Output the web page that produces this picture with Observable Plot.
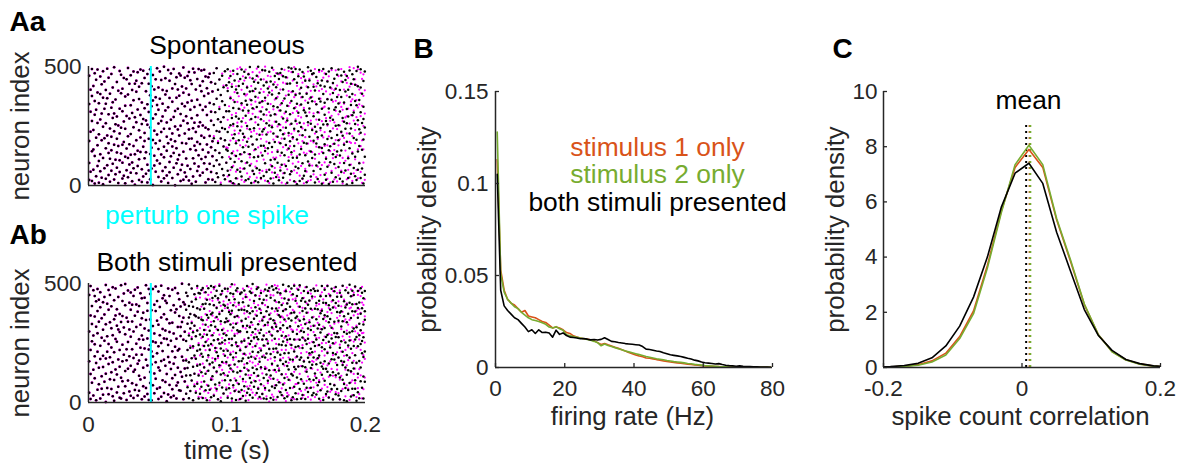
<!DOCTYPE html>
<html><head><meta charset="utf-8">
<script src="https://cdn.jsdelivr.net/npm/d3@7"></script>
<script src="https://cdn.jsdelivr.net/npm/@observablehq/plot@0.6"></script>
<style>
body{margin:0;background:#fff;}
#fig{position:relative;width:1181px;height:463px;overflow:hidden;background:#fff;}
#fig > svg{position:absolute;}
</style></head><body><div id="fig"></div>
<script>
// ---------------- Panel A: raster data ----------------
// For each 1-ms bin (0-199 ms), the indices of neurons that spiked.
const perturbTime = 0.045; // s, time of the perturbed spike
const spontOriginal = [
[23,187,342,461,95],[310,58,402,226],[144,489,271,19,376],[66,233,418,151],[297,8,355,472,124],[201,39,444,318],[82,263,487,169,391],[12,346,215,103],[458,277,131,60,384],[190,425,33,302],
[247,116,369,480,5],[73,322,199,437],[156,401,28,262,343],[491,85,210,367],[137,299,44,453,178],[16,386,239,112],[327,469,62,205,148],[412,91,284,350],[171,25,497,228,303],[108,361,257,47],
[435,139,290,75,196],[252,10,398,166],[323,481,106,57,219],[388,243,134,465],[29,171,312,407,96],[269,452,183,41],[121,335,9,374,238],[446,64,292,155],[207,382,116,494,35],[173,281,427,88],
[54,337,216,463,129],[305,97,401,18],[245,166,479,358,72],[131,428,287,3],[394,190,51,266,440],[82,319,476,146],[232,23,363,110,415],[487,202,141,296],[68,349,258,430,15],[163,482,279,38],
[325,114,452,221,187],[49,396,273,140],[468,87,341,13,255],[196,309,427,63],[132,244,488,379,26],[417,159,71,333],[2,282,191,464,357],[230,125,403,84],[371,58,299,177,446],[105,493,214,338],
[260,36,412,153,318],[479,188,92,364],[17,271,443,130,225],[344,401,61,290],[163,499,238,119,30],[382,77,315,451],[205,146,265,42,397],[485,11,329,178],[99,368,238,440,56],[276,193,471,123],
[31,352,219,408,164],[288,75,137,490],[426,248,1,313,186],[157,369,93,455],[235,47,403,322,109],[471,210,128,377],[65,300,462,19,251],[343,179,416,87],[142,496,272,24,390],[218,55,333,453],
[113,408,291,176,37],[460,262,83,349],[196,21,381,235,477],[318,152,442,69],[7,283,197,426,356],[491,114,241,38],[167,330,475,92,264],[403,16,225,148],[295,447,61,360,183],[127,248,489,80],
[338,42,174,419,266],[209,396,111,483],[54,317,252,150,438],[376,93,486,201],[243,13,331,458,120],[172,409,68,296],[455,236,139,387,26],[91,347,208,470],[310,161,434,57,272],[186,24,395,123],
[473,254,82,341,199],[15,308,427,148],[229,364,106,493,51],[402,179,278,35],[137,445,226,321,88],[267,3,380,198],[354,461,119,242,69],[43,287,413,164],[190,338,480,26,237],[421,96,312,151],
[62,225,397,488,146],[312,171,44,434],[253,18,367,112,460],[136,415,284,77],[482,199,326,9,258],[99,351,441,215],[177,30,290,403,124],[389,249,66,469],[5,322,190,418,280],[231,447,131,58],
[346,102,269,487,38],[161,428,217,315],[71,384,478,140,203],[293,22,356,453],[412,184,250,97,339],[27,467,314,163],[236,395,84,498,131],[358,11,279,206],[450,172,62,325,397],[119,241,436,48],
[288,407,152,19,373],[193,461,73,330],[432,255,121,499,14],[65,348,213,390],[167,278,445,32,311],[485,126,354,227],[40,236,420,167,298],[369,93,483,145],[214,319,57,434,262],[156,408,18,343],
[391,66,252,179,478],[107,294,437,29],[245,162,382,495,81],[333,8,219,424],[183,460,110,299,54],[268,413,36,367],[471,142,329,205,96],[22,388,257,448],[315,178,473,63,232],[138,346,490,87],
[215,33,403,281,459],[366,127,196,52],[82,455,310,243,170],[427,273,12,335],[155,381,496,104,221],[299,47,429,186],[60,259,355,492,140],[396,203,117,477],[18,325,238,446,166],[271,489,79,380],
[193,5,344,432,117],[459,228,306,72],[130,387,19,264,487],[246,153,411,340],[372,94,477,211,29],[41,316,180,458],[307,440,127,233,61],[176,14,386,292],[413,266,101,497,348],[84,205,324,441],
[259,482,143,38,370],[116,354,233,469],[472,61,291,188,415],[13,247,399,130],[341,176,456,84,226],[203,430,27,308],[97,365,485,161,276],[420,242,69,353],[158,7,322,441,210],[384,137,490,256],
[45,297,173,416,348],[271,468,112,24],[362,195,437,79,257],[148,324,6,479],[228,412,98,285,165],[493,54,360,200],[131,276,431,16,389],[318,449,175,90],[251,35,406,329,120],[465,212,143,372],
[78,345,253,487,190],[401,126,28,311],[226,462,372,147,57],[17,284,435,209],[349,95,171,478,268],[443,238,63,395],[184,321,4,262,460],[115,402,290,31],[372,157,483,219,86],[240,49,338,428],
[134,467,295,10,384],[307,200,74,446],[423,121,355,258,39],[192,481,23,337],[66,274,417,143,499],[359,166,236,94],[488,31,308,412,222],[150,386,71,263],[279,439,193,8,331],[45,244,479,121]
];
// Perturbed spontaneous trial: identical to the original before spontDivergeMs, then these bins.
const spontDivergeMs = 90;
const spontPerturbedLate = [
[473,254,82,341,207],[15,308,427,148],[229,364,106,493,51],[402,186,278,35],[137,445,226,330,88],[267,12,380,198],[354,470,119,242,69],[43,287,420,164],[190,338,480,26,237],[421,96,312,160],
[38,276,409,158],[451,120,333,17,244],[189,372,65,480],[297,11,426,213],[143,359,82,468,250],[6,231,392,127],[417,304,58,186],[264,490,147,351,29],[112,375,219,438],[320,73,169,496],
[247,402,24,338,131],[459,191,283,70],[15,327,441,206],[168,94,378,263,487],[383,239,51,416],[132,470,305,197],[276,36,453,118,362],[418,225,91,340],[59,301,476,173],[230,148,396,13,321],
[352,79,444,265],[102,491,217,33],[286,160,369,457,125],[475,52,311,238],[196,405,138,27,350],[61,329,483,214],[393,271,109,446],[158,20,357,242,499],[437,184,296,66],[223,379,134,461],
[10,308,179,415,273],[342,458,87,226],[140,252,399,55],[486,117,320,193,31],[268,434,74,361],[117,206,472,298],[372,45,248,149,423],[34,315,467,181],[255,403,126,339,76],[464,197,288,12],
[161,356,51,432,244],[303,89,219,486],[428,171,378,7,266],[68,282,453,150],[210,397,119,334,481],[347,23,256,165],[476,130,392,217,57],[92,305,441,196],[231,64,371,497,145],[385,278,14,329],
[123,419,259,53,312],[292,177,468,99],[41,337,212,404],[451,82,286,163,370],[186,240,27,432],[326,471,138,261,9],[70,357,203,445],[416,134,292,58,389],[253,19,479,176],[145,364,91,307,448],
[23,273,398,187],[372,140,466,239,84],[303,47,181,425],[489,218,352,112],[163,416,277,35,341],[257,79,440,195],[398,306,133,477,16],[44,232,365,160],[481,141,270,86,405],[202,327,11,453],
[331,97,224,471,166],[119,395,52,283],[440,252,169,364,28],[85,307,459,206],[272,144,383,13,227],[407,61,293,485],[174,352,115,429,240],[26,265,401,149],[356,484,191,73,314],[237,17,420,128],
[460,169,299,43,381],[194,348,95,252],[63,437,222,330,489],[318,116,270,8],[403,200,53,344,177],[147,466,286,104],[291,26,378,219,431],[452,121,323,66],[34,260,415,183,497],[179,353,88,296],
[426,207,140,362,19],[273,493,51,315],[110,233,446,178,380],[359,65,287,422],[488,152,328,30,255],[216,403,96,341],[57,291,474,165,388],[335,190,11,448],[152,377,250,96,467],[400,24,302,215]
];
const bothOriginal = [
[41,298,173,452],[366,120,221,489,15],[257,83,405,330],[138,472,29,281],[194,361,447,102,245],[9,318,166,425],[291,54,384,213,477],[146,432,77,339],[238,17,400,183,463],[354,110,272,58],
[421,196,33,306,149],[87,259,443,370],[2,329,185,494,121],[278,415,61,213],[162,390,246,35,473],[337,98,452,190],[57,231,404,312,127],[484,169,26,283],[211,350,430,95,7],[366,139,267,479],
[118,255,392,42,323],[443,181,66,307],[296,20,372,221,150],[493,104,338,17],[173,426,243,89,363],[39,315,201,458],[409,132,287,68,498],[224,356,11,177],[92,471,339,254,142],[307,46,419,194],
[154,390,276,28,462],[411,81,224,340],[19,298,187,448,129],[365,138,474,53],[247,412,74,317,201],[483,163,29,381],[112,266,405,176,49],[327,459,230,97],[201,14,354,438,281],[68,377,146,264],
[440,227,104,311,25],[180,493,61,347],[269,36,418,155,385],[11,302,223,477],[349,128,456,82,241],[214,388,9,160],[477,73,321,256,193],[122,411,290,39],[384,252,169,487,100],[58,344,207,426],
[236,15,466,327,147],[401,283,134,63],[174,357,491,24,250],[309,93,216,438],[451,180,40,371,269],[86,302,427,154],[267,418,120,350,5],[34,191,479,242],[333,447,74,296,169],[141,388,22,259],
[474,215,335,102,56],[290,409,163,28],[116,234,378,481,190],[392,71,268,17],[219,459,146,317,84],[51,363,225,434],[317,128,49,403,279],[499,192,338,108],[176,421,264,14,356],[88,297,412,143],
[258,37,390,176,461,113],[331,64,221,447,145],[18,405,282,169,496,357],[230,115,372,48,311],[423,186,267,92,479,334],[150,295,9,402,236],[368,68,455,197,323,121],[41,278,184,434,362],[302,489,154,217,79,396],[113,242,356,17,460],
[391,160,286,458,37,223],[66,349,205,473,127],[276,413,19,346,192,481],[147,237,394,88,305],[463,121,327,254,51,415],[9,285,176,432,368],[356,199,480,70,240,133],[221,413,54,301,162],[96,371,246,489,22,325],[439,168,283,110,377],
[28,262,409,147,341,484],[318,183,76,447,229],[470,57,359,211,130,397],[195,305,438,14,266],[83,420,248,372,157,491],[341,5,227,118,454],[252,386,469,63,170,305],[123,289,411,38,217],[407,196,337,94,478,262],[55,353,170,445,283],
[217,478,112,341,20,398],[380,155,267,60,431],[94,328,459,202,143,371],[268,17,386,241,497],[456,189,73,315,130,409],[160,434,280,48,359],[331,92,208,471,11,252],[480,236,363,126,304],[45,173,419,297,389,78],[299,456,132,220,15],
[174,344,53,462,256,390],[421,99,321,185,27],[259,471,146,389,68,205],[7,233,352,118,443],[383,165,296,489,41,322],[134,407,58,271,188],[316,246,466,103,375,31],[460,192,84,337,258],[213,20,383,146,498,295],[352,124,273,426,66],
[89,309,451,184,237,400],[275,40,364,140,477],[483,211,112,329,58,266],[171,394,292,23,435],[306,148,460,77,219,376],[36,265,345,192,418],[432,103,281,17,359,239],[189,475,326,61,142],[266,383,15,206,449,118],[401,91,336,248,470],
[136,297,481,50,369,225],[352,19,204,440,113],[67,315,395,163,281,488],[474,226,100,346,12],[190,429,268,137,333,61],[318,73,480,227,395],[23,386,154,299,462,210],[244,134,367,85,421],[459,201,43,312,177,359],[119,280,410,31,242],
[384,162,256,495,76,325],[207,437,103,349,18],[278,52,392,171,467,240],[153,313,25,416,264],[431,96,353,208,488,139],[61,267,181,402,320],[345,479,120,242,9,376],[180,22,297,455,113],[491,214,378,66,265,149],[233,355,140,427,39],
[105,447,288,193,361,14],[320,82,236,474,151],[264,402,57,343,180,493],[16,189,427,301,98],[438,273,152,384,31,229],[172,350,468,79,296],[395,15,260,148,423,330],[62,246,377,485,129],[311,411,188,44,268,460],[207,98,337,170,429],
[472,145,305,62,394,226],[30,357,211,445,159],[253,478,95,322,189,40],[394,122,283,468,237],[161,34,350,418,265,103],[311,470,186,73,392],[86,242,427,327,16,198],[446,167,294,51,375],[232,386,117,489,308,151],[11,263,419,142,351],
[367,91,224,474,173,313],[142,418,275,36,448],[489,208,362,129,46,284],[255,21,337,409,164],[114,391,450,231,78,351],[314,57,182,478,269],[430,249,127,399,13,208],[72,339,467,181,292],[203,115,418,275,485,35],[380,158,291,57,444],
[29,274,406,189,343,122],[461,105,230,378,14],[174,319,48,444,257,383],[341,213,491,96,158],[78,425,296,171,362,9],[252,147,399,61,472],[412,289,5,337,199,117],[135,461,240,373,52],[294,82,188,495,419,261],[446,226,355,25,131],
[167,413,58,299,383,470],[311,30,452,143,237],[94,265,382,199,487,58],[414,167,316,7,275],[236,356,469,121,43,397],[18,283,174,420,331],[373,147,480,246,89,304],[258,62,396,207,461],[109,438,328,17,274,191],[469,214,348,87,383]
];
const bothDivergeMs = 70;
const bothPerturbedLate = [
[258,37,390,182,461,113],[331,70,221,447,145],[18,405,290,169,496,357],[238,115,372,48,311],[423,186,275,92,479,340],[150,301,9,402,229],[368,76,455,190,323,121],[48,278,184,441,362],[302,481,160,217,86,396],[119,249,356,24,460],
[57,312,198,441,134],[270,403,86,359,22],[163,475,239,328,111],[395,47,287,150,462],[220,371,18,436,305],[131,259,489,74,347],[452,190,318,40,266],[9,384,224,157,433],[339,102,463,281,58],[186,427,240,365,97],
[476,144,292,33,410],[61,356,217,488,175],[308,229,126,401,49],[431,13,349,186,262],[148,285,497,72,380],[246,406,155,329,20],[384,92,271,458,137],[37,203,425,310,166],[292,480,115,246,396],[163,339,63,441,224],
[412,27,301,189,467],[128,387,251,76,344],[486,210,39,419,158],[302,137,376,6,265],[63,445,214,333,179],[420,288,101,495,47],[191,53,362,244,403],[335,466,149,82,290],[12,237,410,173,358],[462,109,295,43,226],
[251,395,17,339,132],[89,316,478,204,436],[374,160,266,48,403],[200,453,87,311,29],[443,236,140,380,67],[115,359,486,248,10],[322,70,205,431,173],[478,283,398,115,54],[41,168,326,462,233],[268,417,92,190,352],
[154,31,448,287,369],[385,247,110,486,196],[16,302,409,161,63],[448,185,341,228,93],[226,388,16,470,142],[351,122,263,415,37],[70,467,198,322,279],[409,53,238,361,150],[292,143,430,26,495],[179,325,81,400,258],
[467,226,349,106,4],[99,375,184,452,286],[318,33,261,396,158],[24,450,136,308,213],[383,175,493,72,343],[246,12,327,422,128],[490,300,95,215,370],[143,398,266,47,475],[337,83,452,183,305],[59,221,362,117,439],
[417,188,28,296,357],[272,468,155,390,81],[6,341,221,474,119],[366,107,418,253,40],[189,282,31,434,167],[465,373,93,244,316],[120,16,307,451,228],[303,433,172,61,389],[222,129,383,495,14],[437,264,77,336,189],
[78,416,193,306,478],[349,151,37,265,403],[486,229,377,120,297],[153,48,326,460,207],[398,312,89,241,19],[31,268,440,176,361],[262,484,131,397,54],[417,91,212,335,139],[109,378,466,23,285],[346,199,60,426,250],
[201,457,320,88,12],[437,142,255,389,174],[64,296,171,479,360],[323,23,444,214,111],[180,407,83,272,492],[469,240,137,335,46],[94,361,413,190,272],[385,126,7,452,309],[249,463,216,58,392],[21,319,162,433,100],
[358,197,481,74,277],[140,411,250,28,342],[492,65,380,213,156],[288,456,108,397,20],[45,173,322,445,239],[424,284,141,52,376],[199,15,468,310,112],[331,403,75,246,482],[106,252,397,167,44],[460,138,289,356,211],
[275,39,425,188,337],[12,364,243,471,96],[404,214,112,308,450],[167,489,278,57,381],[341,83,196,432,262],[221,406,26,349,138],[483,156,302,72,417],[58,327,459,232,178],[395,190,347,11,276],[127,262,475,399,85],
[316,448,93,207,31],[462,175,366,256,120],[81,299,413,142,484],[229,23,386,323,164],[452,371,105,290,60],[140,265,471,35,392],[377,114,221,447,303],[17,420,168,291,486],[293,56,339,410,199],[434,183,252,105,362]
];

// ---------------- Panel B: firing-rate distributions ----------------
const rateBins = [0.5,1.5,2.5,3.5,4.5,5.5,6.5,7.5,8.5,9.5,10.5,11.5,12.5,13.5,14.5,15.5,16.5,17.5,18.5,19.5,
20.5,21.5,22.5,23.5,24.5,25.5,26.5,27.5,28.5,29.5,30.5,31.5,32.5,33.5,34.5,35.5,36.5,37.5,38.5,39.5,
40.5,41.5,42.5,43.5,44.5,45.5,46.5,47.5,48.5,49.5,50.5,51.5,52.5,53.5,54.5,55.5,56.5,57.5,58.5,59.5,
60.5,61.5,62.5,63.5,64.5,65.5,66.5,67.5,68.5,69.5,70.5,71.5,72.5,73.5,74.5,75.5,76.5,77.5,78.5,79.5];
const rateStim1 = [0.113,0.053,0.042,0.037,0.035,0.034,0.032,0.030,0.031,0.028,0.0275,0.027,0.026,0.025,0.0245,0.023,0.0215,0.022,0.0215,0.0205,
0.019,0.0185,0.0172,0.0166,0.0160,0.0156,0.0155,0.0150,0.0145,0.0135,0.0125,0.0130,0.0123,0.0117,0.0110,0.0104,0.0097,0.0090,0.0082,0.0075,
0.0068,0.0062,0.0058,0.0052,0.0050,0.0047,0.0043,0.0040,0.0036,0.0033,0.0030,0.0028,0.0025,0.0023,0.0020,0.0018,0.0016,0.0014,0.0012,0.0010,
0.0008,0.0007,0.0006,0.0005,0.0005,0.0004,0.0003,0.0003,0.0002,0.0002,0.0002,0.0002,0.0001,0.0001,0.0001,0.0001,0.0001,0.0001,0.0001,0.0001];
const rateStim2 = [0.128,0.051,0.041,0.037,0.035,0.033,0.032,0.030,0.0285,0.027,0.026,0.0255,0.025,0.0243,0.0235,0.022,0.0215,0.0222,0.021,0.0203,
0.0178,0.0173,0.0168,0.0164,0.0160,0.0156,0.0152,0.0148,0.0142,0.0135,0.0118,0.0128,0.0120,0.0114,0.0108,0.0102,0.0096,0.0090,0.0085,0.0080,
0.0075,0.0070,0.0065,0.0060,0.0056,0.0052,0.0048,0.0045,0.0042,0.0038,0.0035,0.0032,0.0030,0.0028,0.0025,0.0022,0.0020,0.0017,0.0015,0.0013,
0.0010,0.0009,0.0008,0.0007,0.0005,0.0004,0.0004,0.0003,0.0003,0.0002,0.0002,0.0002,0.0001,0.0001,0.0001,0.0001,0.0001,0.0001,0.0001,0.0001];
const rateBoth = [0.105,0.042,0.0335,0.031,0.029,0.027,0.026,0.024,0.022,0.0195,0.0205,0.0185,0.0205,0.019,0.0192,0.0188,0.0165,0.0203,0.018,0.0188,
0.0174,0.0165,0.0163,0.0160,0.0156,0.0157,0.0154,0.0150,0.0152,0.0149,0.0153,0.0162,0.0152,0.0142,0.0140,0.0136,0.0133,0.0130,0.0128,0.0126,
0.0124,0.0122,0.0114,0.0100,0.0098,0.0094,0.0090,0.0087,0.0080,0.0075,0.0069,0.0066,0.0063,0.0060,0.0055,0.0050,0.0046,0.0040,0.0036,0.0030,
0.0026,0.0024,0.0022,0.0019,0.0021,0.0016,0.0012,0.0010,0.0009,0.0007,0.0009,0.0006,0.0005,0.0005,0.0004,0.0004,0.0003,0.0002,0.0002,0.0001];

// ---------------- Panel C: spike count correlation distributions ----------------
const corrBins = [-0.21,-0.19,-0.17,-0.15,-0.13,-0.11,-0.09,-0.07,-0.05,-0.03,-0.01,0.01,0.03,0.05,0.07,0.09,0.11,0.13,0.15,0.17,0.19,0.21];
const corrStim1 = [0.01,0.02,0.05,0.10,0.24,0.52,1.12,2.05,3.70,5.65,7.25,7.90,7.25,5.35,3.85,2.28,1.20,0.58,0.28,0.13,0.05,0.02];
const corrStim2 = [0.01,0.015,0.04,0.08,0.20,0.45,1.05,1.95,3.60,5.60,7.35,8.05,7.35,5.40,3.90,2.30,1.20,0.57,0.27,0.12,0.05,0.02];
const corrBoth  = [0.02,0.03,0.07,0.15,0.35,0.78,1.50,2.55,4.00,5.80,7.04,7.40,6.67,4.90,3.50,2.10,1.17,0.62,0.29,0.14,0.06,0.02];
const corrMeans = {stim1: 0.011, stim2: 0.012, both: 0.006};
const meanLineTop = 8.9;

// ---------------- styling ----------------
const FONT = '"Liberation Sans", Arial, Helvetica, sans-serif';
const AXIS = "#262626", ORANGE = "#D95319", GREEN = "#77AC30", MAGENTA = "#FF00FF", CYAN = "#00FFFF";
const TICK_FS = 22.5, LABEL_FS = 25.8, TEXT_FS = 26.4, LETTER_FS = 28;
const fmt = d => String(d);
const baseStyle = {fontFamily: FONT, fontSize: TICK_FS + "px", color: AXIS, background: "transparent", overflow: "visible"};

function toSpikes(bins, startMs) {
  const out = [];
  bins.forEach((ns, i) => ns.forEach(n => out.push({t: (startMs + i + 0.5) / 1000, n})));
  return out;
}

function place(svg, left, top) {
  svg.style.left = left + "px";
  svg.style.top = top + "px";
  document.getElementById("fig").appendChild(svg);
}

function rasterPanel({original, late, divergeMs, height, mt, mb, letter, letterDy, title, showTime, extra = []}) {
  const black = toSpikes(original, 0);
  const magentaEarly = toSpikes(original.slice(0, divergeMs), 0);
  const magentaLate = toSpikes(late, divergeMs);
  const marks = [
    Plot.dot(magentaEarly, {x: "t", y: "n", r: 1.45, fill: MAGENTA}),
    Plot.dot(magentaLate, {x: "t", y: "n", r: 1.12, fill: MAGENTA}),
    Plot.dot(black, {x: "t", y: "n", r: 1.25, fill: "#000"}),
    Plot.ruleX([perturbTime], {stroke: CYAN, strokeWidth: 2}),
    Plot.ruleX([0], {stroke: AXIS, strokeWidth: 1.5}),
    Plot.ruleY([0], {stroke: AXIS, strokeWidth: 1.5}),
    Plot.axisY({ticks: [0, 500], tickSize: 0, tickPadding: 7, tickFormat: fmt, label: null, fontSize: TICK_FS, fill: AXIS}),
    Plot.text(["neuron index"], {frameAnchor: "left", rotate: -90, dx: -68, textAnchor: "middle", lineAnchor: "middle", fontSize: LABEL_FS, fill: AXIS}),
    Plot.text([title], {frameAnchor: "top", dy: -13, textAnchor: "middle", lineAnchor: "bottom", fontSize: TEXT_FS, fill: "#000"}),
    Plot.text([letter], {frameAnchor: "top-left", textAnchor: "start", dx: -79, dy: letterDy, lineAnchor: "bottom", fontSize: LETTER_FS, fontWeight: "bold", fill: "#000"}),
    ...extra
  ];
  if (showTime) {
    marks.push(Plot.axisX({ticks: [0, 0.1, 0.2], tickSize: 0, tickPadding: 14, tickFormat: fmt, label: null, fontSize: TICK_FS, fill: AXIS}));
    marks.push(Plot.text(["time (s)"], {frameAnchor: "bottom", dy: 56, textAnchor: "middle", lineAnchor: "bottom", fontSize: LABEL_FS, fill: AXIS}));
  }
  return Plot.plot({
    width: 380, height, marginLeft: 88, marginRight: 15, marginTop: mt, marginBottom: mb,
    x: {domain: [0, 0.2], axis: null}, y: {domain: [0, 500], axis: null},
    style: baseStyle,
    marks
  });
}

place(rasterPanel({
  original: spontOriginal, late: spontPerturbedLate, divergeMs: spontDivergeMs,
  height: 230, mt: 66, mb: 45, letter: "Aa", letterDy: -36, title: "Spontaneous", showTime: false,
  extra: [Plot.text(["perturb one spike"], {frameAnchor: "bottom", dx: -20, dy: 38, textAnchor: "middle", lineAnchor: "bottom", fontSize: TEXT_FS, fill: CYAN})]
}), 0, 0);

place(rasterPanel({
  original: bothOriginal, late: bothPerturbedLate, divergeMs: bothDivergeMs,
  height: 233, mt: 53, mb: 61, letter: "Ab", letterDy: -40, title: "Both stimuli presented", showTime: true
}), 0, 230);

// ---------------- Panel B ----------------
const panelB = Plot.plot({
  width: 420, height: 463, marginLeft: 115, marginRight: 28, marginTop: 91, marginBottom: 96,
  x: {domain: [0, 80], axis: null}, y: {domain: [0, 0.15], axis: null},
  style: baseStyle,
  marks: [
    Plot.line(rateStim1, {x: rateBins, y: d => d, stroke: ORANGE, strokeWidth: 1.6}),
    Plot.line(rateStim2, {x: rateBins, y: d => d, stroke: GREEN, strokeWidth: 1.6}),
    Plot.line(rateBoth, {x: rateBins, y: d => d, stroke: "#000", strokeWidth: 1.6}),
    Plot.ruleX([0], {stroke: AXIS, strokeWidth: 1.5}),
    Plot.ruleY([0], {stroke: AXIS, strokeWidth: 1.5}),
    Plot.axisY({ticks: [0, 0.05, 0.1, 0.15], tickSize: -4, tickPadding: 11, tickFormat: fmt, label: null, fontSize: TICK_FS, fill: AXIS, stroke: AXIS, strokeWidth: 1.3}),
    Plot.axisX({ticks: [0, 20, 40, 60, 80], tickSize: -4, tickPadding: 17, tickFormat: fmt, label: null, fontSize: TICK_FS, fill: AXIS, stroke: AXIS, strokeWidth: 1.3}),
    Plot.text(["probability density"], {frameAnchor: "left", rotate: -90, dx: -68, textAnchor: "middle", lineAnchor: "middle", fontSize: LABEL_FS, fill: AXIS}),
    Plot.text(["firing rate (Hz)"], {frameAnchor: "bottom", dx: -1.5, dy: 57, textAnchor: "middle", lineAnchor: "bottom", fontSize: LABEL_FS, fill: AXIS}),
    Plot.text(["stimulus 1 only"], {frameAnchor: "top-left", dx: 162, dy: 64, textAnchor: "middle", lineAnchor: "bottom", fontSize: TEXT_FS, fill: ORANGE}),
    Plot.text(["stimulus 2 only"], {frameAnchor: "top-left", dx: 162, dy: 91.5, textAnchor: "middle", lineAnchor: "bottom", fontSize: TEXT_FS, fill: GREEN}),
    Plot.text(["both stimuli presented"], {frameAnchor: "top-left", dx: 162, dy: 119, textAnchor: "middle", lineAnchor: "bottom", fontSize: TEXT_FS, fill: "#000"}),
    Plot.text(["B"], {frameAnchor: "top-left", textAnchor: "start", dx: -82, dy: -34, lineAnchor: "bottom", fontSize: LETTER_FS, fontWeight: "bold", fill: "#000"})
  ]
});
place(panelB, 380, 0);

// ---------------- Panel C ----------------
const dotted = {y1: 0, y2: meanLineTop, strokeWidth: 2, strokeDasharray: "2,4"};
const panelC = Plot.plot({
  width: 381, height: 463, marginLeft: 83, marginRight: 21, marginTop: 91, marginBottom: 96,
  x: {domain: [-0.2, 0.2], axis: null}, y: {domain: [0, 10], axis: null},
  style: baseStyle,
  marks: [
    Plot.ruleX([corrMeans.stim1], {...dotted, stroke: ORANGE}),
    Plot.ruleX([corrMeans.stim2], {...dotted, stroke: GREEN}),
    Plot.ruleX([corrMeans.both], {...dotted, stroke: "#000"}),
    Plot.line(corrStim1, {x: corrBins, y: d => d, stroke: ORANGE, strokeWidth: 1.6, clip: true}),
    Plot.line(corrStim2, {x: corrBins, y: d => d, stroke: GREEN, strokeWidth: 1.6, clip: true}),
    Plot.line(corrBoth, {x: corrBins, y: d => d, stroke: "#000", strokeWidth: 1.6, clip: true}),
    Plot.ruleX([-0.2], {stroke: AXIS, strokeWidth: 1.5}),
    Plot.ruleY([0], {stroke: AXIS, strokeWidth: 1.5}),
    Plot.axisY({ticks: [0, 2, 4, 6, 8, 10], tickSize: -4, tickPadding: 10, tickFormat: fmt, label: null, fontSize: TICK_FS, fill: AXIS, stroke: AXIS, strokeWidth: 1.3}),
    Plot.axisX({ticks: [-0.2, 0, 0.2], tickSize: -4, tickPadding: 17, tickFormat: fmt, label: null, fontSize: TICK_FS, fill: AXIS, stroke: AXIS, strokeWidth: 1.3}),
    Plot.text(["probability density"], {frameAnchor: "left", rotate: -90, dx: -48, textAnchor: "middle", lineAnchor: "middle", fontSize: LABEL_FS, fill: AXIS}),
    Plot.text(["spike count correlation"], {frameAnchor: "bottom", dx: -1.5, dy: 57, textAnchor: "middle", lineAnchor: "bottom", fontSize: LABEL_FS, fill: AXIS}),
    Plot.text(["mean"], {frameAnchor: "top-left", dx: 145, dy: 17, textAnchor: "middle", lineAnchor: "bottom", fontSize: TEXT_FS, fill: "#000"}),
    Plot.text(["C"], {frameAnchor: "top-left", textAnchor: "start", dx: -51, dy: -34, lineAnchor: "bottom", fontSize: LETTER_FS, fontWeight: "bold", fill: "#000"})
  ]
});
place(panelC, 800, 0);
</script>
</body></html>
